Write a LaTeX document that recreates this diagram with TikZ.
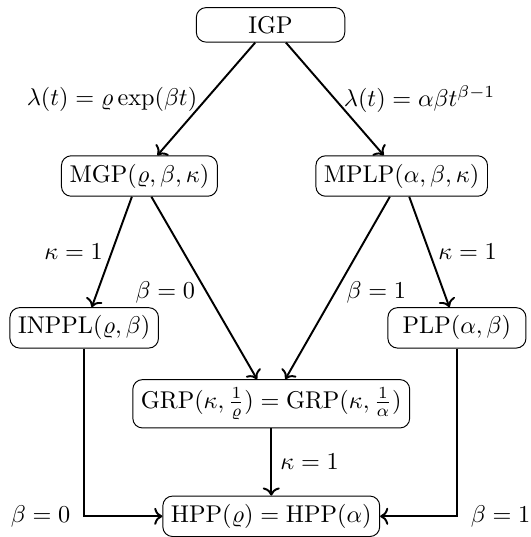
\documentclass[tikz,border=0pt]{standalone}
\usepackage{amsmath}
\usepackage{tikz}
\usetikzlibrary{positioning, arrows.meta}

\begin{document}
\begin{tikzpicture}[
    proc/.style={
        rectangle,
        rounded corners,
        draw,
        align=center,
        minimum width=2cm,
        minimum height=0.5cm
    },
    arrow/.style={
        thick,
        ->
    }
]
\useasboundingbox (0,0) rectangle (7.68,-7.78);

% Top: general process
\node[proc, minimum width=2.15cm] (igp) at (3.92,-0.36) {IGP};

% Second row: modulated processes
\node[proc] (mgp) at (2.02,-2.55) {$\mathrm{MGP}(\varrho,\beta,\kappa)$};
\node[proc] (mplp) at (5.82,-2.55) {$\mathrm{MPLP}(\alpha,\beta,\kappa)$};

% Third row
\node[proc] (inppl) at (1.22,-4.75) {$\mathrm{INPPL}(\varrho,\beta)$};
\node[proc] (plp) at (6.62,-4.75) {$\mathrm{PLP}(\alpha,\beta)$};
\node[proc] (grp) at (3.93,-5.85) {$\mathrm{GRP}(\kappa,\frac{1}{\varrho})=\mathrm{GRP}(\kappa,\frac{1}{\alpha})$};

% Bottom: homogeneous Poisson process
\node[proc] (hpp) at (3.93,-7.48) {$\mathrm{HPP}(\varrho)=\mathrm{HPP}(\alpha)$};

% Arrows
\draw[arrow] (igp) -- node[left] {$\lambda(t)=\varrho\exp(\beta t)$} (mgp);
\draw[arrow] (igp) -- node[right] {$\lambda(t)=\alpha\beta t^{\beta-1}$} (mplp);

\draw[arrow] (mgp) -- node[left] {$\kappa=1$} (inppl);
\draw[arrow] (mgp) -- node[left, yshift=-2pt] {$\beta=0$} (grp);
\draw[arrow] (mplp) -- node[right, yshift=-2pt] {$\beta=1$} (grp);
\draw[arrow] (mplp) -- node[right] {$\kappa=1$} (plp);

\draw[arrow] (grp) -- node[right] {$\kappa=1$} (hpp);
\draw[arrow] (inppl) |- node[pos=0.5, left, xshift=-2pt] {$\beta=0$} (hpp);
\draw[arrow] (plp) |- node[pos=0.5, right, xshift=2pt] {$\beta=1$} (hpp);

\end{tikzpicture}
\end{document}
